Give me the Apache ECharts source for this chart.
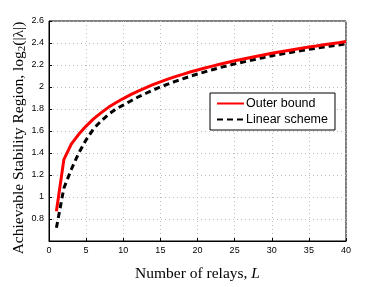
<!DOCTYPE html>
<html><head><meta charset="utf-8">
<script src="https://cdn.jsdelivr.net/npm/echarts@6/dist/echarts.min.js"></script>
<style>html,body{margin:0;padding:0;background:#fff}#c{width:382px;height:287px}</style>
</head><body><div id="c"></div>
<script>
const relays = Array.from({length:40},(_,i)=>i+1);
const outerBound = [0.87,1.34,1.48,1.57,1.645,1.71,1.765,1.815,1.857,1.895,
 1.93,1.963,1.993,2.021,2.047,2.071,2.094,2.115,2.136,2.155,
 2.173,2.19,2.207,2.223,2.238,2.252,2.266,2.28,2.293,2.306,
 2.318,2.33,2.341,2.352,2.363,2.373,2.384,2.394,2.403,2.413];
const linearScheme = [0.72,1.08,1.25,1.40,1.52,1.62,1.69,1.75,1.80,1.835,
 1.873,1.909,1.941,1.972,2.0,2.026,2.051,2.074,2.097,2.118,
 2.138,2.157,2.176,2.193,2.21,2.225,2.24,2.255,2.269,2.284,
 2.296,2.308,2.32,2.331,2.342,2.352,2.363,2.373,2.382,2.393];
const seriesNames = ['Outer bound','Linear scheme'];
const xTitle = 'Number of relays, ';
const yTitle = 'Achievable Stability Region, log';

const chart = echarts.init(document.getElementById('c'));
const gridLine = {show:true,lineStyle:{color:'#bbb',type:[1,3],width:1}};
chart.setOption({
  animation:false,
  grid:{left:49,right:36,top:21,bottom:33,show:true,borderColor:'#000',borderWidth:1},
  legend:{
    orient:'vertical',left:210,top:93,
    backgroundColor:'#fff',borderColor:'#000',borderWidth:1,
    padding:[4,7,4,6],itemGap:3,itemWidth:27,itemHeight:15,
    itemStyle:{opacity:0},
    textStyle:{fontFamily:'Liberation Sans, Arial',fontSize:12.5,color:'#000',padding:[0,0,0,-3]},
    data:seriesNames
  },
  xAxis:{type:'value',min:0,max:40,interval:5,
    axisLine:{lineStyle:{color:'#000'}},
    axisTick:{inside:true,length:3,lineStyle:{color:'#000'}},
    axisLabel:{fontFamily:'Liberation Sans, Arial',fontSize:9,color:'#000',margin:5},
    splitLine:gridLine,
    name:xTitle+'{i|L}',nameLocation:'middle',nameGap:25,nameMoveOverlap:false,
    nameTextStyle:{fontFamily:'Liberation Serif, DejaVu Serif',fontSize:15.5,color:'#000',
      rich:{i:{fontFamily:'Liberation Serif',fontStyle:'italic',fontSize:15.5,color:'#000'}}}
  },
  yAxis:{type:'value',min:0.6,max:2.6,interval:0.2,
    axisLine:{lineStyle:{color:'#000'}},
    axisTick:{inside:true,length:3,lineStyle:{color:'#000'}},
    axisLabel:{fontFamily:'Liberation Sans, Arial',fontSize:9,color:'#000',margin:5,
      formatter:v=>Math.abs(v-0.6)<1e-6?'':String(parseFloat(v.toFixed(1)))},
    splitLine:gridLine,
    name:yTitle+'{s|2}(|λ|)',nameLocation:'middle',nameGap:21,nameMoveOverlap:false,
    nameTextStyle:{fontFamily:'Liberation Serif, DejaVu Serif',fontSize:15.5,color:'#000',padding:[0,14,0,0],
      rich:{s:{fontFamily:'Liberation Serif',fontSize:11,color:'#000',verticalAlign:'bottom',padding:[7,0,0,0]}}}
  },
  series:[
    {name:seriesNames[0],type:'line',data:relays.map((x,i)=>[x,outerBound[i]]),
     showSymbol:false,symbol:'none',lineStyle:{color:'#f00',width:3},itemStyle:{color:'#f00'},z:3},
    {name:seriesNames[1],type:'line',data:relays.map((x,i)=>[x,linearScheme[i]]),
     showSymbol:false,symbol:'none',lineStyle:{color:'#000',width:3,type:[6,4]},itemStyle:{color:'#000'},z:2}
  ]
});
</script></body></html>
